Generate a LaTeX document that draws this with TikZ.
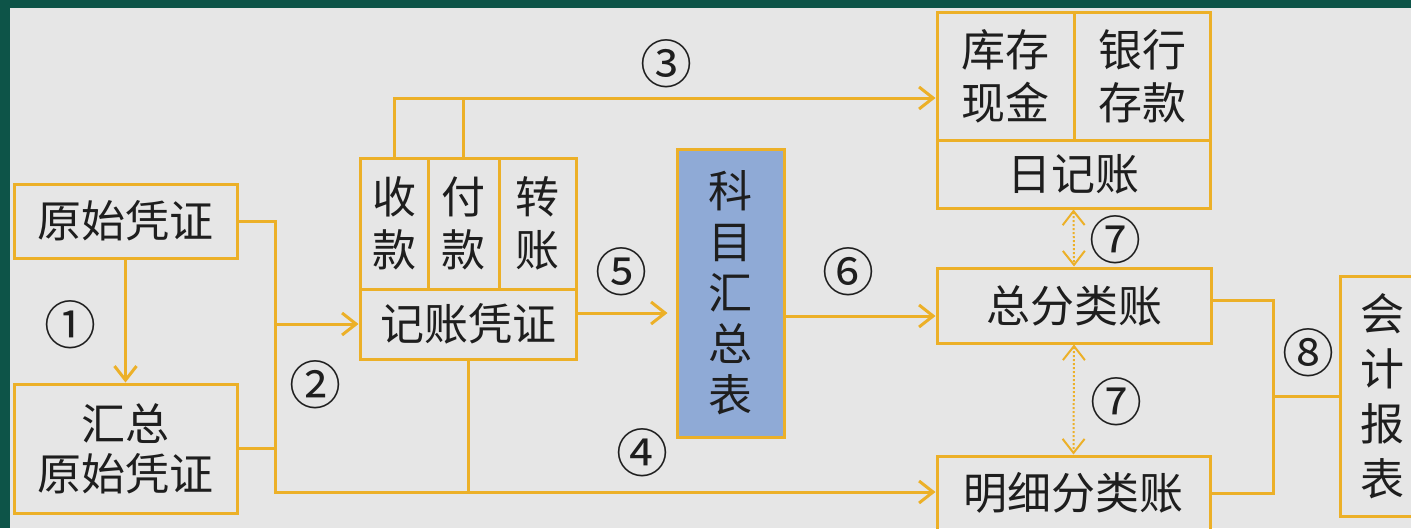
\documentclass[tikz,border=0pt]{standalone}
\usepackage{fontspec}
\setmainfont{Noto Sans CJK SC}
\usetikzlibrary{arrows.meta}
\definecolor{gold}{RGB}{236,176,40}
\definecolor{bgray}{RGB}{230,230,230}
\definecolor{dgreen}{RGB}{13,84,72}
\definecolor{sblue}{RGB}{143,170,214}
\definecolor{ink}{RGB}{30,30,30}
\begin{document}
\begin{tikzpicture}[x=1pt,y=-1pt,
  cell/.style={draw=gold, line width=3pt, rectangle, inner sep=0pt, align=center, text=ink, font=\fontsize{44}{53}\selectfont},
  conn/.style={draw=gold, line width=3pt},
  arr/.style={conn, -{Straight Barb[length=14pt,width=22pt]}},
  darr/.style={draw=gold, line width=2pt, dotted, {Straight Barb[length=14pt,width=22pt]}-{Straight Barb[length=14pt,width=22pt]}},
  num/.style={text=ink, font=\fontsize{52}{54}\selectfont, inner sep=0pt}
]
\useasboundingbox (0,0) rectangle (1411,528);
\clip (0,0) rectangle (1411,528);
\fill[dgreen] (0,0) rectangle (1411,528);
\fill[bgray] (10,8) rectangle (1411,528);

\node[cell, minimum width=223pt, minimum height=74pt] (yszp) at (125.5,221) {原始凭证};
\node[cell, minimum width=223pt, minimum height=129pt, font=\fontsize{44}{50}\selectfont] (hz) at (125.5,448.5) {汇总\\原始凭证};
\node[cell, minimum width=68pt, minimum height=131pt] (sk) at (394,223.5) {收\\款};
\node[cell, minimum width=71pt, minimum height=131pt] (fk) at (463.5,223.5) {付\\款};
\node[cell, minimum width=77pt, minimum height=131pt] (zz) at (537.5,223.5) {转\\账};
\node[cell, minimum width=216pt, minimum height=70pt] (jzpz) at (468,324) {记账凭证};
\node[cell, fill=sblue, minimum width=107pt, minimum height=288pt, font=\fontsize{44}{51}\selectfont] (km) at (730.5,293) {科\\目\\汇\\总\\表};
\node[cell, minimum width=137pt, minimum height=128pt] (kc) at (1005.5,76) {库存\\现金};
\node[cell, minimum width=136pt, minimum height=128pt] (yh) at (1142,76) {银行\\存款};
\node[cell, minimum width=273pt, minimum height=68pt] (rjz) at (1073.5,174) {日记账};
\node[cell, minimum width=274pt, minimum height=75pt] (zfl) at (1074,305.5) {总分类账};
\node[cell, minimum width=273pt, minimum height=74pt] (mx) at (1073.5,493) {明细分类账};
\node[cell, minimum width=84pt, minimum height=240pt, font=\fontsize{44}{55}\selectfont] (kj) at (1382,396) {会\\计\\报\\表};

\coordinate (j2a) at (275,221);
\coordinate (j2b) at (275,492);
\coordinate (c3) at (sk.north |- 0,98);
\coordinate (j8) at (1273,396);

% 1
\draw[arr] (yszp.south) -- (hz.north);
% 2
\draw[arr] (yszp.east) -- (j2a) -- (j2b) -- (j2b -| mx.west);
\draw[conn] (hz.east) -- (hz.east -| j2a);
\draw[arr] (jzpz.west -| j2a) -- (jzpz.west);
% 3
\draw[arr] (sk.north) -- (c3) -- (c3 -| kc.west);
\draw[conn] (fk.north) -- (fk.north |- c3);
% 4
\draw[conn] (jzpz.south) -- (jzpz.south |- j2b);
% 5
\draw[arr, shorten >=8pt] (jzpz.east |- 0,313) -- (km.west |- 0,313);
% 6
\draw[arr] (km.east |- 0,316) -- (zfl.west |- 0,316);
% 7
\draw[darr] (rjz.south) -- (zfl.north);
\draw[darr] (zfl.south) -- (mx.north);
% 8
\draw[conn] (zfl.east |- 0,300) -| (j8) |- (mx.east);
\draw[conn] (j8) -- (kj.west);

\node[num] (n1) at (70,325) {①};
\node[num] (n2) at (315,385) {②};
\node[num] (n3) at (666,64) {③};
\node[num] (n4) at (642,453) {④};
\node[num] (n5) at (621,272) {⑤};
\node[num] (n6) at (848,272) {⑥};
\node[num] (n7a) at (1115,240) {⑦};
\node[num] (n7b) at (1116,402) {⑦};
\node[num] (n8) at (1308,353) {⑧};
\end{tikzpicture}
\end{document}
